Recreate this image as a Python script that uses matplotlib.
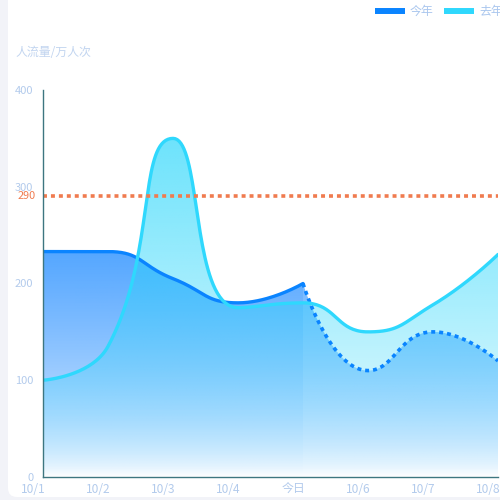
import numpy as np
import matplotlib
matplotlib.use("Agg")
import matplotlib.pyplot as plt
from matplotlib.patches import FancyBboxPatch, Polygon
from matplotlib.lines import Line2D
from matplotlib.transforms import ScaledTranslation
from matplotlib.colors import to_rgb

plt.rcParams['font.family'] = ['Noto Sans CJK SC', 'DejaVu Sans']

categories = ['10/1', '10/2', '10/3', '10/4', '今日', '10/6', '10/7', '10/8']
this_year_solid = [233, 233, 205, 180, 200]          # 10/1 .. 今日
this_year_forecast = [200, 110, 150, 120]            # 今日 .. 10/8
last_year = [100, 135, 350, 175, 180, 150, 178, 230]
mark_value = 290
y_ticks = [0, 100, 200, 300, 400]
series_names = ['今年', '去年']

C_THIS = '#0a84ff'
C_LAST = '#2fd8fd'
C_MARK = '#f07b4f'
C_TEXT = '#b3cbec'
C_AXIS = '#3d7680'

W, H = 500, 500
fig = plt.figure(figsize=(5, 5), dpi=100)
fig.patch.set_facecolor('#f2f3f8')
card = FancyBboxPatch((8 / W, 3 / H), 1.2, 1.2, boxstyle="round,pad=0,rounding_size=0.018",
                      transform=fig.transFigure, facecolor='white', edgecolor='none', zorder=-5)
fig.patches.append(card)

ax = fig.add_axes([43 / W, 1 - 477 / H, 455 / W, 387 / H])
ax.set_zorder(1)
ax.set_facecolor('none')
ax.set_xlim(0, 7)
ax.set_ylim(0, 400)

SX = 65.0
SY = 387.0 / 400.0


def echarts_smooth(xs, ys, smooth=0.5, n=40):
    """ECharts-like smooth bezier, computed in pixel space."""
    P = [(x * SX, y * SY) for x, y in zip(xs, ys)]
    out_x, out_y = [P[0][0]], [P[0][1]]
    cp0 = P[0]
    N = len(P)
    for k in range(1, N):
        px, py = P[k - 1]
        x, y = P[k]
        if k >= N - 1:
            cp1 = (x, y)
            ncp0 = None
        else:
            nx, ny = P[k + 1]
            vx, vy = nx - px, ny - py
            d0 = np.hypot(x - px, y - py)
            d1 = np.hypot(nx - x, ny - y)
            r = d1 / (d1 + d0)
            ncx = x + vx * smooth * r
            ncy = y + vy * smooth * r
            ncx = min(ncx, max(nx, x)); ncy = min(ncy, max(ny, y))
            ncx = max(ncx, min(nx, x)); ncy = max(ncy, min(ny, y))
            vx, vy = ncx - x, ncy - y
            c1x = x - vx * d0 / d1
            c1y = y - vy * d0 / d1
            c1x = min(c1x, max(px, x)); c1y = min(c1y, max(py, y))
            c1x = max(c1x, min(px, x)); c1y = max(c1y, min(py, y))
            vx, vy = x - c1x, y - c1y
            ncp0 = (x + vx * d1 / d0, y + vy * d1 / d0)
            cp1 = (c1x, c1y)
        t = np.linspace(0, 1, n)[1:]
        bx = ((1 - t) ** 3) * px + 3 * ((1 - t) ** 2) * t * cp0[0] + 3 * (1 - t) * t ** 2 * cp1[0] + t ** 3 * x
        by = ((1 - t) ** 3) * py + 3 * ((1 - t) ** 2) * t * cp0[1] + 3 * (1 - t) * t ** 2 * cp1[1] + t ** 3 * y
        out_x.extend(bx); out_y.extend(by)
        cp0 = ncp0
    return np.array(out_x) / SX, np.array(out_y) / SY


def gradient_area(xc, yc, color, a_top, gamma, z):
    top = yc.max()
    verts = np.column_stack([np.r_[xc[0], xc, xc[-1]], np.r_[0, yc, 0]])
    poly = Polygon(verts, closed=True, facecolor='none', edgecolor='none', transform=ax.transData)
    ax.add_patch(poly)
    hh = 256
    f = np.linspace(0, 1, hh)[:, None]  # 0 at top
    alpha = a_top * (1 - f) ** gamma
    rgb = np.array(to_rgb(color))
    img = np.zeros((hh, 2, 4))
    img[..., :3] = rgb
    img[..., 3] = alpha
    im = ax.imshow(img, extent=[xc[0], xc[-1], 0, top], origin='upper', aspect='auto',
                   interpolation='bilinear', zorder=z)
    im.set_clip_path(poly)


x_solid = np.arange(len(this_year_solid))
x_fore = np.arange(len(this_year_solid) - 1, len(categories))
x_last = np.arange(len(categories))

sx1, sy1 = echarts_smooth(x_solid, this_year_solid)
sx2, sy2 = echarts_smooth(x_fore, this_year_forecast)
lx, ly = echarts_smooth(x_last, last_year)

gradient_area(sx1, sy1, '#0a80ff', 0.70, 0.7, 1)
gradient_area(sx2, sy2, '#0a80ff', 0.55, 0.7, 1)
gradient_area(lx, ly, '#28d6fb', 0.68, 0.8, 2)
ax.set_xlim(0, 7)
ax.set_ylim(0, 400)

ax.plot(sx1, sy1, color=C_THIS, lw=2.4, zorder=4, solid_capstyle='round')
ax.plot(sx2, sy2, color=C_THIS, lw=2.6, zorder=4, linestyle=(0, (1.1, 1.1)))
ax.plot(lx, ly, color=C_LAST, lw=2.4, zorder=5, solid_capstyle='round')

ax.axhline(mark_value, color=C_MARK, lw=2.6, linestyle=(0, (1.1, 1.1)), zorder=6)
ax.text(-0.11, mark_value, str(mark_value), color=C_MARK, fontsize=7.8, ha='right', va='center')

for s in ['top', 'right']:
    ax.spines[s].set_visible(False)
for s in ['left', 'bottom']:
    ax.spines[s].set_color(C_AXIS)
    ax.spines[s].set_linewidth(1.0)
    ax.spines[s].set_zorder(7)

ax.set_yticks(y_ticks)
ax.set_yticklabels([str(v) for v in y_ticks])
ax.set_xticks(x_last)
ax.set_xticklabels(categories)
ax.tick_params(axis='both', length=0, colors=C_TEXT, labelsize=8)
ax.tick_params(axis='y', pad=7)
ax.tick_params(axis='x', pad=4, labelsize=8.6)
off = ScaledTranslation(-10 / 100, 0, fig.dpi_scale_trans)
for lab in ax.get_xticklabels():
    lab.set_transform(lab.get_transform() + off)

fig.text(15 / W, 1 - 53 / H, '人流量/万人次', color='#c2d5f0', fontsize=8.6, ha='left', va='center')

# legend
for (x0, x1, tx), name, col in zip([(375, 405, 410), (444, 474, 479)], series_names, [C_THIS, C_LAST]):
    fig.add_artist(Line2D([x0 / W, x1 / W], [1 - 11 / H] * 2, lw=4.3, color=col,
                          transform=fig.transFigure, solid_capstyle='butt'))
    fig.text(tx / W, 1 - 11 / H, name, color='#a9c6ee', fontsize=8.6, ha='left', va='center')

fig.savefig('out.png', dpi=100)
